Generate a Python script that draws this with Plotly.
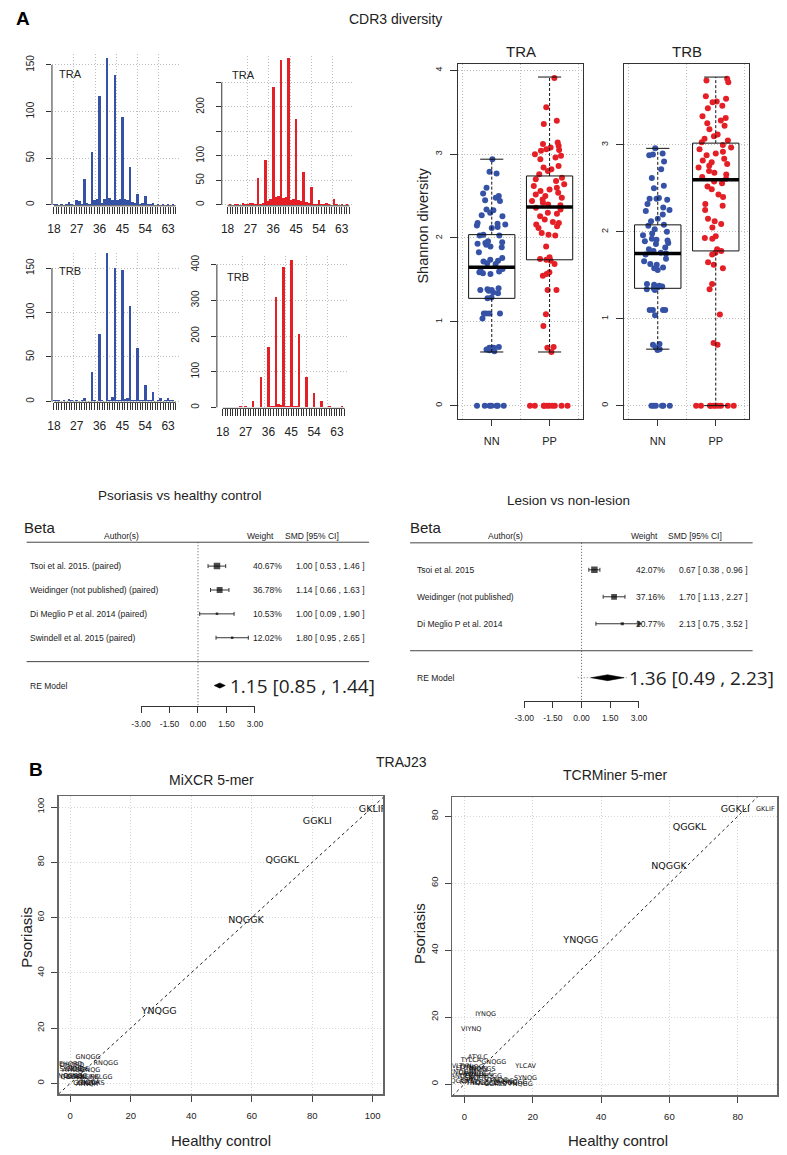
import plotly.graph_objects as go

W, H = 787, 1155

# ---------------- data ----------------
cdr3_lengths = list(range(18, 67))
length_tick_labels = [18, 27, 36, 45, 54, 63]
tra_nn_counts = [1, 1, 0, 1, 0, 1, 3, 1, 0, 5, 4, 1, 28, 2, 1, 57, 5, 6, 117, 2,
                 6, 158, 7, 5, 139, 5, 6, 94, 6, 5, 41, 3, 2, 12, 1, 2, 9, 1, 1, 2,
                 0, 1, 0, 1, 0, 1, 0, 1, 0]
tra_pp_counts = [0, 1, 0, 2, 1, 0, 3, 2, 1, 4, 3, 1, 55, 2, 3, 92, 8, 12, 241, 15,
                 18, 296, 14, 15, 300, 10, 12, 175, 10, 8, 68, 5, 3, 37, 2, 1, 10, 1, 1, 3,
                 1, 0, 12, 1, 0, 1, 0, 1, 0]
trb_nn_counts = [1, 1, 1, 0, 1, 0, 3, 1, 0, 1, 0, 1, 4, 0, 0, 33, 1, 0, 76, 1,
                 0, 167, 1, 5, 150, 1, 2, 148, 3, 4, 107, 2, 1, 60, 1, 2, 18, 1, 1, 11,
                 0, 1, 4, 0, 1, 4, 1, 1, 0]
trb_pp_counts = [1, 1, 1, 1, 1, 1, 2, 4, 2, 3, 1, 1, 18, 2, 1, 84, 2, 2, 168, 3,
                 4, 310, 8, 6, 394, 5, 4, 413, 3, 3, 207, 2, 2, 86, 2, 1, 39, 1, 1, 17,
                 1, 1, 5, 1, 1, 2, 1, 3, 1]

groups = ["NN", "PP"]
tra_nn_shannon = [2.94, 2.79, 2.77, 2.60, 2.53, 2.50, 2.48, 2.45, 2.44, 2.34, 2.33, 2.30,
                  2.27, 2.26, 2.18, 2.17, 2.16, 2.15, 2.13, 2.12, 2.04, 2.03, 2.03, 1.96,
                  1.95, 1.94, 1.93, 1.92, 1.90, 1.89, 1.83, 1.76, 1.74, 1.73, 1.72, 1.70,
                  1.69, 1.63, 1.61, 1.60, 1.59, 1.58, 1.57, 1.40, 1.39, 1.38, 1.38, 1.37,
                  1.35, 1.34, 1.29, 1.28, 1.10, 1.10, 1.10, 1.10, 1.04, 0.70, 0.69, 0.69,
                  0.67, 0.66, 0.65, 0, 0, 0, 0, 0, 0, 0]
tra_pp_shannon = [3.91, 3.56, 3.40, 3.36, 3.14, 3.12, 3.10, 3.08, 3.06, 3.05, 3.04, 3.00,
                  2.98, 2.96, 2.94, 2.86, 2.84, 2.82, 2.80, 2.76, 2.72, 2.70, 2.68, 2.64,
                  2.62, 2.60, 2.58, 2.56, 2.54, 2.52, 2.50, 2.48, 2.46, 2.44, 2.42, 2.40,
                  2.39, 2.36, 2.34, 2.30, 2.29, 2.26, 2.22, 2.19, 2.18, 2.16, 2.14, 2.12,
                  2.06, 2.04, 2.03, 1.90, 1.77, 1.75, 1.74, 1.73, 1.69, 1.59, 1.57, 1.55,
                  1.38, 1.38, 1.09, 0.95, 0.70, 0.69, 0.64, 0, 0, 0, 0, 0, 0, 0, 0, 0, 0]
trb_nn_shannon = [2.96, 2.90, 2.89, 2.88, 2.81, 2.72, 2.62, 2.53, 2.50, 2.39, 2.38, 2.38,
                  2.37, 2.32, 2.28, 2.25, 2.24, 2.20, 2.15, 2.12, 2.08, 2.07, 2.03, 2.00,
                  1.98, 1.96, 1.92, 1.91, 1.90, 1.89, 1.87, 1.86, 1.82, 1.80, 1.78, 1.76,
                  1.75, 1.74, 1.69, 1.66, 1.63, 1.62, 1.59, 1.58, 1.56, 1.40, 1.39, 1.38,
                  1.37, 1.36, 1.35, 1.34, 1.33, 1.10, 1.10, 1.10, 1.10, 1.04, 0.71, 0.70,
                  0.67, 0.65, 0.64, 0, 0, 0, 0, 0, 0]
trb_pp_shannon = [3.76, 3.74, 3.72, 3.56, 3.53, 3.50, 3.49, 3.45, 3.42, 3.33, 3.31, 3.28,
                  3.25, 3.22, 3.18, 3.12, 3.10, 3.07, 3.05, 3.03, 3.00, 2.97, 2.95, 2.92,
                  2.90, 2.88, 2.84, 2.82, 2.80, 2.78, 2.76, 2.74, 2.70, 2.68, 2.66, 2.63,
                  2.61, 2.58, 2.56, 2.52, 2.49, 2.43, 2.40, 2.32, 2.30, 2.25, 2.15, 2.12,
                  2.09, 2.05, 1.95, 1.93, 1.92, 1.80, 1.78, 1.76, 1.74, 1.65, 1.62, 1.58,
                  1.40, 1.34, 1.05, 0.72, 0.70, 0, 0, 0, 0, 0, 0, 0, 0, 0, 0]
tra_q1 = [1.28, 1.74]
tra_median = [1.65, 2.37]
tra_q3 = [2.04, 2.74]
tra_lower = [0.64, 0.64]
tra_upper = [2.94, 3.92]
trb_q1 = [1.35, 1.78]
trb_median = [1.75, 2.60]
trb_q3 = [2.08, 3.02]
trb_lower = [0.65, 0.0]
trb_upper = [2.96, 3.78]

forest_ticks = [-3.0, -1.5, 0.0, 1.5, 3.0]
psor_studies = ["Tsoi et al. 2015. (paired)", "Weidinger (not published) (paired)",
                "Di Meglio P et al. 2014 (paired)", "Swindell et al. 2015 (paired)"]
psor_smd = [1.00, 1.14, 1.00, 1.80]
psor_lo = [0.53, 0.66, 0.09, 0.95]
psor_hi = [1.46, 1.63, 1.90, 2.65]
psor_weight = [40.67, 36.78, 10.53, 12.02]
psor_re = [1.15, 0.85, 1.44]
les_studies = ["Tsoi et al. 2015", "Weidinger (not published)", "Di Meglio P et al. 2014"]
les_smd = [0.67, 1.70, 2.13]
les_lo = [0.38, 1.13, 0.75]
les_hi = [0.96, 2.27, 3.52]
les_weight = [42.07, 37.16, 20.77]
les_re = [1.36, 0.49, 2.23]
les_pi = [-0.20, 2.40]

mixcr_major_kmer = ["GKLIF", "GGKLI", "QGGKL", "NQGGK", "YNQGG"]
mixcr_major_hc = [99.9, 81.7, 70.1, 58.1, 29.4]
mixcr_major_ps = [99.2, 94.6, 80.5, 59.0, 25.9]
mixcr_minor_kmer = ["GNQGG", "RNQGG", "EHQRD", "DHQRD", "SYNQG", "AYNQG", "GYNQG", "IYNQG",
                    "NQGGS", "QGGSN", "DYNQG", "LYNQG", "KLIFG", "NKLGG", "GGKLT", "YNQGA",
                    "QGGKS", "AYNQR"]
mixcr_minor_hc = [5.9, 11.8, 0.2, 0.6, 0.3, 1.2, 2.5, 6.5, 0.0, 0.8, 1.8, 2.6, 6.5, 10.2,
                  4.5, 6.0, 7.5, 5.5]
mixcr_minor_ps = [9.4, 7.1, 7.0, 6.6, 4.9, 4.6, 4.9, 4.8, 2.4, 2.0, 2.4, 2.0, 2.2, 2.2,
                  0.0, 0.3, 0.0, -0.3]
tcrm_major_kmer = ["GGKLI", "QGGKL", "NQGGK", "YNQGG"]
tcrm_major_hc = [79.3, 65.9, 59.9, 34.1]
tcrm_major_ps = [82.1, 76.6, 64.9, 42.8]
tcrm_minor_kmer = ["GKLIF", "IYNQG", "VIYNQ", "ATYLC", "TYLCA", "GNQGG", "YLCAV", "SYNQG",
                   "VLTYN", "LTYNQ", "DYNQG", "AVIYN", "NQGGS", "YNQGA", "CAVIY", "AVNQG",
                   "VNQGG", "ANQGG", "LCAVI", "SNQGG", "ENQGG", "VYNQG", "QGGKS", "RIYNQ",
                   "TNQGG", "KNQGG", "GGKLS", "LNQGG", "HNQGG", "FNQGG", "PNQGG"]
tcrm_minor_hc = [88.1, 6.2, 2.0, 3.9, 1.9, 8.6, 17.9, 17.9, -0.8, 0.5, 2.2, 4.0, 5.6, -1.0,
                 1.0, 3.0, 5.0, -0.5, 1.5, 3.5, 7.5, 9.3, -0.6, 1.6, 4.0, 6.5, 9.0, 12.0,
                 14.8, 16.5, 11.0]
tcrm_minor_ps = [82.1, 20.9, 16.3, 8.1, 7.0, 6.4, 5.4, 1.7, 5.2, 4.6, 5.0, 4.5, 4.4, 3.6,
                 3.2, 3.0, 2.9, 2.2, 1.8, 1.6, 2.4, 1.2, 0.8, 0.5, 0.3, 0.2, -0.1, 0.1,
                 0.6, 0.0, 0.8]
mixcr_ticks = [0, 20, 40, 60, 80, 100]
tcrm_ticks = [0, 20, 40, 60, 80]

# ---------------- styling helpers ----------------
BLUE = "#3552a6"
RED = "#e41f26"
INK = "#222222"
GRID = "#bdbdbd"
GDASH = "1px,2px"
FONT = "Liberation Sans, Arial, sans-serif"
KFONT = "DejaVu Sans, sans-serif"

fig = go.Figure()
layout = {}
annotations = []
shapes = []


def ax(i):
    return ("x" if i == 1 else f"x{i}", "y" if i == 1 else f"y{i}")


def lay(i):
    return ("xaxis" if i == 1 else f"xaxis{i}", "yaxis" if i == 1 else f"yaxis{i}")


def xdom(a, b):
    return [a / W, b / W]


def ydom(top, bottom):
    return [1 - bottom / H, 1 - top / H]


def note(s, x, y, size, xanchor="center", yanchor="middle", angle=0, family=FONT,
         xref="paper", yref="paper", color=INK):
    if xref == "paper":
        x = x / W
    if yref == "paper":
        y = 1 - y / H
    annotations.append(dict(text=s, x=x, y=y, xref=xref, yref=yref, showarrow=False,
                            font=dict(family=family, size=size, color=color),
                            xanchor=xanchor, yanchor=yanchor, textangle=angle))


# ---------------- A: histograms ----------------
UNIT = 2.6
hist_grid = [25.8, 34.3, 42.7, 51.0, 59.4]


def histogram(i, counts, color, bar0_px, left_px, right_px, zero_px, ppu, top_px,
              yticks, ylabels, label, lab_x, lab_y):
    xa, ya = ax(i)
    xl, yl = lay(i)
    fig.add_trace(go.Bar(x=cdr3_lengths, y=counts, width=1.0,
                         marker=dict(color=color, line=dict(width=0)),
                         xaxis=xa, yaxis=ya, hoverinfo="skip"))
    x0 = cdr3_lengths[0]
    layout[xl] = dict(domain=xdom(left_px, right_px),
                      range=[x0 + (left_px - bar0_px) / UNIT, x0 + (right_px - bar0_px) / UNIT],
                      anchor=ya, tickmode="array", tickvals=cdr3_lengths,
                      ticktext=[str(v) if v in length_tick_labels else "" for v in cdr3_lengths],
                      ticks="outside", ticklen=7, tickwidth=1, tickcolor="#333",
                      showline=False, showgrid=False, zeroline=False,
                      tickfont=dict(size=12, color=INK, family=FONT), ticklabelstandoff=5,
                      minor=dict(tickmode="array", tickvals=hist_grid, showgrid=True,
                                 gridcolor=GRID, griddash=GDASH, gridwidth=1, ticks=""))
    layout[yl] = dict(domain=ydom(top_px, zero_px + 1),
                      range=[-1.0 / ppu, (zero_px - top_px) / ppu], anchor=xa,
                      tickmode="array", tickvals=yticks, ticktext=ylabels,
                      ticks="outside", ticklen=5, tickcolor="#333", tickangle=-90,
                      showline=False, showgrid=True, gridcolor=GRID, griddash=GDASH,
                      zeroline=False, tickfont=dict(size=10, color=INK, family=FONT),
                      ticklabelstandoff=8)
    shapes.append(dict(type="line", xref=f"{xa} domain", yref=ya, x0=0, x1=0,
                       y0=yticks[0], y1=yticks[-1], line=dict(color="#333", width=1)))
    shapes.append(dict(type="line", xref=xa, yref=f"{ya} domain", x0=cdr3_lengths[0],
                       x1=cdr3_lengths[-1], y0=0, y1=0, line=dict(color="#333", width=1)))
    note(label, lab_x, lab_y, 11, xanchor="left")


histogram(1, tra_nn_counts, BLUE, 45, 43, 175, 204, 0.933, 53,
          [0, 50, 100, 150], ["0", "50", "100", "150"], "TRA", 48, 73)
histogram(2, tra_pp_counts, RED, 223, 217, 352, 204, 0.49, 55,
          [0, 50, 100, 150, 200, 250], ["0", "50", "100", "", "200", ""], "TRA", 225, 74)
histogram(3, trb_nn_counts, BLUE, 45, 43, 175, 400.7, 0.888, 252,
          [0, 50, 100, 150], ["0", "50", "100", "150"], "TRB", 48, 270)
histogram(4, trb_pp_counts, RED, 218, 212, 347, 406.7, 0.357, 255,
          [0, 100, 200, 300, 400], ["0", "100", "200", "300", "400"], "TRB", 220, 276)

# ---------------- A: boxplots ----------------
BOX_W = 0.8


def box_panel(i, title, left_px, right_px, top_px, bottom_px, zero_px, ppu, yticks,
              samples, q1, med, q3, lower, upper):
    xa, ya = ax(i)
    xl, yl = lay(i)
    positions = list(range(1, len(groups) + 1))
    for p, vals, col in zip(positions, samples, [BLUE, RED]):
        fig.add_trace(go.Box(y=vals, x0=p, width=BOX_W, boxpoints="all", jitter=1.0,
                             pointpos=0, marker=dict(color=col, size=6),
                             line=dict(color="rgba(0,0,0,0)", width=0),
                             fillcolor="rgba(0,0,0,0)", xaxis=xa, yaxis=ya,
                             hoverinfo="skip"))
    fig.add_trace(go.Box(x=positions, q1=q1, median=med, q3=q3, lowerfence=q1,
                         upperfence=q3, width=BOX_W, boxpoints=False, whiskerwidth=0,
                         line=dict(color="#111", width=1), fillcolor="rgba(0,0,0,0)",
                         xaxis=xa, yaxis=ya, hoverinfo="skip"))
    wx, wy, cx, cy, mx, my = [], [], [], [], [], []
    for p, a, b, c, d in zip(positions, lower, q1, q3, upper):
        wx += [p, p, None, p, p, None]
        wy += [a, b, None, c, d, None]
        cx += [p - BOX_W / 4, p + BOX_W / 4, None, p - BOX_W / 4, p + BOX_W / 4, None]
        cy += [a, a, None, d, d, None]
    for p, m in zip(positions, med):
        mx += [p - BOX_W / 2, p + BOX_W / 2, None]
        my += [m, m, None]
    fig.add_trace(go.Scatter(x=wx, y=wy, mode="lines", line=dict(color="#111", width=1, dash="3px,2px"),
                             xaxis=xa, yaxis=ya, hoverinfo="skip"))
    fig.add_trace(go.Scatter(x=cx, y=cy, mode="lines", line=dict(color="#111", width=1),
                             xaxis=xa, yaxis=ya, hoverinfo="skip"))
    fig.add_trace(go.Scatter(x=mx, y=my, mode="lines", line=dict(color="#000", width=3.5),
                             xaxis=xa, yaxis=ya, hoverinfo="skip"))
    layout[xl] = dict(domain=xdom(left_px, right_px), range=[0.42, 2.58], anchor=ya,
                      tickmode="array", tickvals=positions, ticktext=groups,
                      ticks="outside", ticklen=6, tickcolor="#333",
                      showline=True, mirror=True, linecolor="#333", linewidth=1,
                      showgrid=False, zeroline=False,
                      tickfont=dict(size=11, color=INK, family=FONT), ticklabelstandoff=6,
                      minor=dict(tickmode="array", tickvals=[0.5, 1.5, 2.5], showgrid=True,
                                 gridcolor=GRID, griddash=GDASH, ticks=""))
    layout[yl] = dict(domain=ydom(top_px, bottom_px),
                      range=[(zero_px - bottom_px) / ppu, (zero_px - top_px) / ppu],
                      anchor=xa, tickmode="array", tickvals=yticks,
                      ticktext=[str(t) for t in yticks], ticks="outside", ticklen=7,
                      tickcolor="#333", tickangle=-90, showline=True, mirror=True,
                      linecolor="#333", linewidth=1, showgrid=True, gridcolor=GRID,
                      griddash=GDASH, zeroline=False,
                      tickfont=dict(size=9, color=INK, family=FONT), ticklabelstandoff=5)
    note(title, (left_px + right_px) / 2, 51, 15)


box_panel(5, "TRA", 459.3, 587.3, 63.3, 418.3, 405, 83.9, [0, 1, 2, 3, 4],
          [tra_nn_shannon, tra_pp_shannon], tra_q1, tra_median, tra_q3, tra_lower, tra_upper)
box_panel(6, "TRB", 629.3, 757.7, 63.3, 418.3, 405, 87.0, [0, 1, 2, 3],
          [trb_nn_shannon, trb_pp_shannon], trb_q1, trb_median, trb_q3, trb_lower, trb_upper)
note("Shannon diversity", 423, 225, 14.5, angle=-90)

# ---------------- A: forest plots ----------------
FX_MAX = forest_ticks[-1]


def forest(i, cfg, studies, smd, lo, hi, weight, re, pi=None):
    xa, ya = ax(i)
    xl, yl = lay(i)
    k = len(studies)
    rows = list(range(k, 0, -1))
    row0, rh, axis_px = cfg["row0"], cfg["rh"], cfg["axis"]
    r_axis = (row0 - axis_px) / rh
    top_row = cfg["top_row"]
    wmax = max(weight)
    sizes = [max(2.5, 6.5 * w / wmax) for w in weight]
    if pi is not None:
        fig.add_trace(go.Scatter(x=[pi[0], pi[1]], y=[-1, -1], mode="lines",
                                 line=dict(color="#888", width=1, dash="1px,2px"),
                                 xaxis=xa, yaxis=ya, hoverinfo="skip"))
    fig.add_trace(go.Scatter(
        x=smd, y=rows, mode="markers",
        marker=dict(symbol="square", size=sizes, color="#000", line=dict(width=0)),
        error_x=dict(type="data", symmetric=False,
                     array=[h - e for h, e in zip(hi, smd)],
                     arrayminus=[e - l for e, l in zip(smd, lo)],
                     width=2, thickness=1, color="#333"),
        xaxis=xa, yaxis=ya, hoverinfo="skip"))
    arrows = [r for r, h in zip(rows, hi) if h > FX_MAX]
    if arrows:
        fig.add_trace(go.Scatter(x=[FX_MAX] * len(arrows), y=arrows, mode="markers",
                                 marker=dict(symbol="triangle-right", size=6, color="#333"),
                                 cliponaxis=False, xaxis=xa, yaxis=ya, hoverinfo="skip"))
    est, rlo, rhi = re
    hh = cfg["dh"]
    fig.add_trace(go.Scatter(x=[rlo, est, rhi, est, rlo], y=[-1, -1 + hh, -1, -1 - hh, -1],
                             mode="lines", fill="toself", fillcolor="#000",
                             line=dict(color="#000", width=0.5),
                             xaxis=xa, yaxis=ya, hoverinfo="skip"))
    layout[xl] = dict(domain=xdom(cfg["left"], cfg["right"]), range=[forest_ticks[0], FX_MAX],
                      anchor=ya, tickmode="array", tickvals=forest_ticks,
                      ticktext=[f"{t:.2f}" for t in forest_ticks], ticks="outside",
                      ticklen=6, tickcolor="#333", showline=True, linecolor="#333",
                      linewidth=1, showgrid=False, zeroline=False,
                      tickfont=dict(size=8.5, color=INK, family=FONT), ticklabelstandoff=3)
    layout[yl] = dict(domain=ydom(row0 - top_row * rh, axis_px), range=[r_axis, top_row],
                      anchor=xa, visible=False, showgrid=False, zeroline=False)
    for r in (k + 1, 0):
        shapes.append(dict(type="line", xref="paper", yref=ya, x0=cfg["l0"] / W,
                           x1=cfg["l1"] / W, y0=r, y1=r, line=dict(color="#444", width=1)))
    shapes.append(dict(type="line", xref=xa, yref=ya, x0=0, x1=0, y0=k + 1, y1=r_axis,
                       line=dict(color="#555", width=1, dash="1px,2px")))
    for r, s, e, l, h, w in zip(rows, studies, smd, lo, hi, weight):
        note(s, cfg["lab_x"], r, 8.5, xanchor="left", yref=ya)
        note(f"{w:.2f}%", cfg["w_x"], r, 8.5, xanchor="right", yref=ya)
        note(f"{e:.2f} [ {l:.2f} , {h:.2f} ]", cfg["ci_x"], r, 8.5, xanchor="left", yref=ya)
    note("RE Model", cfg["lab_x"], -1, 8.5, xanchor="left", yref=ya)
    note(f"{est:.2f} [{rlo:.2f} , {rhi:.2f}]", cfg["re_x"], -1, 19, xanchor="left",
         yref=ya, family="Open Sans, sans-serif")
    note("Author(s)", cfg["auth_x"], 535, 8.5)
    note("Weight", cfg["wh_x"], 535, 8.5)
    note("SMD [95% CI]", cfg["smd_x"], 535, 8.5)
    note("Beta", cfg["beta_x"], 526.7, 15, xanchor="left")
    note(cfg["title"], cfg["title_x"], cfg["title_y"], 13.5)


forest(7, dict(row0=661.2, rh=23.9, axis=706, top_row=5.4, left=134.3, right=251.0,
               dh=0.11, l0=17, l1=368, lab_x=18.3, w_x=281, ci_x=291.5, re_x=223.5,
               auth_x=114, wh_x=257, smd_x=309, beta_x=12.5,
               title="Psoriasis vs healthy control", title_x=174, title_y=495),
       psor_studies, psor_smd, psor_lo, psor_hi, psor_weight, psor_re)
forest(8, dict(row0=650.3, rh=27.0, axis=700.7, top_row=4.9, left=526.9, right=644.5,
               dh=0.11, l0=410, l1=761, lab_x=415, w_x=673, ci_x=683, re_x=632,
               auth_x=507.5, wh_x=650, smd_x=702, beta_x=407.5,
               title="Lesion vs non-lesion", title_x=572, title_y=500),
       les_studies, les_smd, les_lo, les_hi, les_weight, les_re, les_pi)

# ---------------- B: k-mer scatter ----------------


def kmer_panel(i, cfg, ticks, major, minor):
    xa, ya = ax(i)
    xl, yl = lay(i)
    xr = [(cfg["left"] - cfg["x0"]) / cfg["xppu"], (cfg["right"] - cfg["x0"]) / cfg["xppu"]]
    yr = [(cfg["y0"] - cfg["bottom"]) / cfg["yppu"], (cfg["y0"] - cfg["top"]) / cfg["yppu"]]
    lo, hi = min(xr[0], yr[0]), max(xr[1], yr[1])
    fig.add_trace(go.Scatter(x=[lo, hi], y=[lo, hi], mode="lines",
                             line=dict(color="#222", width=1, dash="3px,3px"),
                             xaxis=xa, yaxis=ya, hoverinfo="skip"))
    mk, mx, my = minor
    fig.add_trace(go.Scatter(x=mx, y=my, text=mk, mode="text",
                             textfont=dict(family=KFONT, size=6.5, color="#111"),
                             xaxis=xa, yaxis=ya, hoverinfo="skip"))
    Mk, Mx, My = major
    fig.add_trace(go.Scatter(x=Mx, y=My, text=Mk, mode="text",
                             textfont=dict(family=KFONT, size=9.5, color="#111"),
                             xaxis=xa, yaxis=ya, hoverinfo="skip"))
    common = dict(tickmode="array", tickvals=ticks, ticktext=[str(t) for t in ticks],
                  ticks="outside", ticklen=6, tickcolor="#444", showline=True, mirror=True,
                  linecolor="#666", linewidth=1.5, showgrid=True, gridcolor="#d6d6d6",
                  griddash=GDASH, zeroline=False,
                  tickfont=dict(size=9.5, color=INK, family=FONT))
    layout[xl] = dict(domain=xdom(cfg["left"], cfg["right"]), range=xr, anchor=ya,
                      ticklabelstandoff=6, **common)
    layout[yl] = dict(domain=ydom(cfg["top"], cfg["bottom"]), range=yr, anchor=xa,
                      tickangle=-90, ticklabelstandoff=3, **common)
    note(cfg["title"], cfg["title_x"], cfg["title_y"], 14)
    note("Psoriasis", cfg["ytitle_x"], cfg["ytitle_y"], 15, angle=-90)
    note("Healthy control", cfg["xtitle_x"], 1140, 15)


kmer_panel(9, dict(left=50, right=382.7, top=795.7, bottom=1094, x0=61.7, xppu=3.1,
                   y0=1083.3, yppu=2.766, title="MiXCR 5-mer", title_x=206, title_y=780,
                   ytitle_x=17, ytitle_y=937, xtitle_x=216),
           mixcr_ticks, (mixcr_major_kmer, mixcr_major_hc, mixcr_major_ps),
           (mixcr_minor_kmer, mixcr_minor_hc, mixcr_minor_ps))
kmer_panel(10, dict(left=453.3, right=786, top=796.7, bottom=1095, x0=465.7, xppu=3.5,
                    y0=1084, yppu=3.35, title="TCRMiner 5-mer", title_x=620, title_y=775,
                    ytitle_x=419, ytitle_y=933, xtitle_x=623),
           tcrm_ticks, (tcrm_major_kmer, tcrm_major_hc, tcrm_major_ps),
           (tcrm_minor_kmer, tcrm_minor_hc, tcrm_minor_ps))

# ---------------- figure-level labels ----------------
note("<b>A</b>", 13, 18, 19, color="#000")
note("CDR3 diversity", 395, 18, 14)
note("<b>B</b>", 27, 769, 19, color="#000")
note("TRAJ23", 401, 762, 14)

layout.update(dict(width=W, height=H, margin=dict(l=0, r=0, t=0, b=0),
                   paper_bgcolor="white", plot_bgcolor="white", showlegend=False,
                   boxmode="overlay", bargap=0, font=dict(family=FONT, color=INK),
                   annotations=annotations, shapes=shapes))
fig.update_layout(**layout)
fig.write_html("out.html", config={"displayModeBar": False, "staticPlot": True},
               post_script="document.body.style.margin='0';"
                           "document.body.style.padding='0';"
                           "document.documentElement.style.overflow='hidden';")
